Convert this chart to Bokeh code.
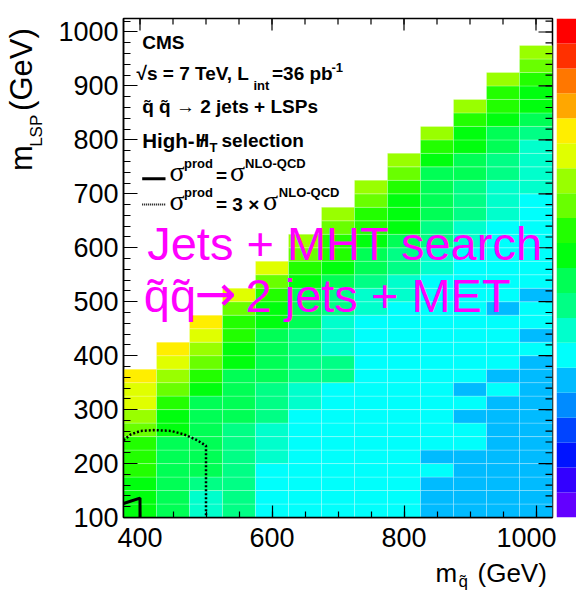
import numpy as np
import pandas as pd
from bokeh.plotting import figure
from bokeh.models import Range1d, FixedTicker, Label, ColumnDataSource
from bokeh.layouts import row, column
from bokeh.embed import file_html
from bokeh.resources import INLINE

# ---------------- data ----------------
m_squark = [400, 450, 500, 550, 600, 650, 700, 750, 800, 850, 900, 950, 1000]
lsp_first = 100          # lowest m_LSP bin edge (GeV)
lsp_step = 25            # m_LSP bin width (GeV)
sq_step = 50             # m_squark bin width (GeV)

# colour level (0..19 of the z palette) of every cell, from m_LSP = 100 GeV upward
lv_400 = [10, 10, 10, 11, 11, 11, 12, 13, 14, 14, 15]
lv_450 = [9, 9, 9, 9, 9, 9, 10, 10, 11, 12, 13, 14, 15]
lv_500 = [7, 7, 8, 9, 9, 9, 9, 9, 9, 10, 11, 12, 13, 14, 15]
lv_550 = [8, 8, 8, 8, 8, 8, 8, 9, 9, 9, 9, 10, 10, 11, 11, 12, 14]
lv_600 = [6, 6, 6, 6, 7, 7, 7, 8, 8, 8, 9, 9, 9, 9, 10, 10, 11, 12, 14]
lv_650 = [6, 6, 6, 6, 6, 6, 6, 6, 7, 7, 8, 8, 8, 8, 9, 9, 9, 10, 11, 12, 13]
lv_700 = [6, 6, 6, 6, 6, 6, 6, 6, 6, 6, 8, 8, 7, 7, 7, 8, 8, 9, 10, 11, 11, 12, 13]
lv_750 = [6, 6, 6, 6, 6, 6, 6, 6, 6, 6, 6, 6, 6, 6, 6, 7, 7, 8, 9, 9, 10, 11, 11, 12, 13]
lv_800 = [6, 6, 6, 6, 6, 6, 6, 6, 6, 6, 6, 6, 6, 6, 6, 6, 7, 7, 8, 8, 9, 10, 10, 10, 11, 12, 13]
lv_850 = [5, 5, 5, 6, 5, 6, 6, 6, 6, 6, 6, 6, 6, 6, 6, 6, 6, 6, 7, 7, 8, 8, 9, 9, 9, 9, 10, 11, 13]
lv_900 = [5, 5, 5, 5, 5, 6, 6, 5, 6, 5, 6, 6, 6, 6, 6, 6, 6, 6, 6, 6, 7, 7, 8, 8, 8, 9, 9, 10, 10, 11, 13]
lv_950 = [5, 5, 5, 5, 5, 5, 5, 5, 5, 6, 5, 6, 6, 6, 6, 5, 6, 6, 6, 6, 6, 6, 7, 7, 7, 8, 8, 9, 9, 10, 11, 11, 13]
lv_1000 = [5, 5, 5, 5, 5, 5, 5, 5, 5, 5, 5, 5, 6, 5, 6, 6, 5, 6, 6, 6, 6, 6, 6, 6, 7, 7, 7, 7, 8, 9, 10, 10, 11, 12, 13]
levels = [lv_400, lv_450, lv_500, lv_550, lv_600, lv_650, lv_700,
          lv_750, lv_800, lv_850, lv_900, lv_950, lv_1000]

# 20-level palette (violet -> red)
palette = ["#6300ff", "#3300ff", "#0014ff", "#0044ff", "#008bff", "#00bbff",
           "#00fffc", "#00ffcc", "#00ff85", "#00ff55", "#00ff0e", "#22ff00",
           "#69ff00", "#99ff00", "#e0ff00", "#ffee00", "#ffa700", "#ff7700",
           "#ff3000", "#ff0000"]

# exclusion contours
obs_x = [375, 400, 400]
obs_y = [126, 136, 100]
obs3_x = [375, 386, 401, 421, 447, 467, 487, 500, 500]
obs3_y = [243, 254, 260.5, 262, 260.5, 254, 243, 233, 100]

x_major = [400, 600, 800, 1000]
x_minor = [400, 450, 500, 550, 600, 650, 700, 750, 800, 850, 900, 950, 1000]
y_major = [100, 200, 300, 400, 500, 600, 700, 800, 900, 1000]
y_minor = list(range(100, 1021, 20))

X_LO, X_HI = 375, 1025
Y_LO, Y_HI = 100, 1025

# ---------------- cells table ----------------
rows = []
for m, lv in zip(m_squark, levels):
    for i, k in enumerate(lv):
        rows.append(dict(left=m - sq_step / 2, right=m + sq_step / 2,
                         bottom=lsp_first + i * lsp_step,
                         top=lsp_first + (i + 1) * lsp_step,
                         color=palette[k]))
cells = ColumnDataSource(pd.DataFrame(rows))

FONT = "Liberation Sans"
SHIFT = 0.4   # empirical baseline correction (fraction of font size)

# ---------------- layout geometry (page pixels) ----------------
YT_W = 50          # y-title strip
P_W, P_H = 506, 556
XT_H = 591 - P_H   # x-title strip
CB_W = 20
TOTAL_W = YT_W + P_W + CB_W

p = figure(width=P_W, height=P_H, x_range=Range1d(X_LO, X_HI), y_range=Range1d(Y_LO, Y_HI),
           output_backend="svg", toolbar_location=None,
           min_border_left=73, min_border_right=4, min_border_top=17, min_border_bottom=39)
p.grid.visible = False
p.outline_line_color = "black"
p.outline_line_width = 1.5
p.background_fill_color = "white"
p.border_fill_color = "white"

p.quad(source=cells, left="left", right="right", bottom="bottom", top="top",
       fill_color="color", line_color="white", line_alpha=0.3, line_width=0.8)

p.line(obs_x, obs_y, line_color="black", line_width=3)
p.line(obs3_x, obs3_y, line_color="black", line_width=2.5, line_dash="2 2")


def style_axis(ax, ticks, minor, tin, min_in):
    ax.ticker = FixedTicker(ticks=ticks, minor_ticks=minor)
    ax.major_tick_in = tin
    ax.major_tick_out = 0
    ax.minor_tick_in = min_in
    ax.minor_tick_out = 0
    ax.major_tick_line_color = "black"
    ax.minor_tick_line_color = "black"
    ax.major_tick_line_width = 1.2
    ax.minor_tick_line_width = 1.2
    ax.axis_line_color = "black"
    ax.axis_line_width = 1.5
    ax.major_label_text_font = FONT
    ax.major_label_text_font_size = "27px"
    ax.major_label_text_color = "black"


style_axis(p.xaxis[0], x_major, x_minor, 12, 6)
p.xaxis[0].major_label_standoff = 10
style_axis(p.yaxis[0], y_major, y_minor, 14, 7)
p.yaxis[0].major_label_standoff = 5

# page-pixel -> data helpers
FL, FR, FT, FB = 123.0, 552.0, 17.0, 517.0
XPX = (X_HI - X_LO) / (FR - FL)   # GeV per pixel, x
YPX = (Y_HI - Y_LO) / (FB - FT)   # GeV per pixel, y


def dx(px):
    return X_LO + (px - FL) * XPX


def dy(py):
    return Y_LO + (FB - py) * YPX


# mirrored ticks on the top and right edges of the frame
p.segment(x0=x_major, y0=[Y_HI] * len(x_major), x1=x_major, y1=[Y_HI - 12 * YPX] * len(x_major),
          line_color="black", line_width=1.2)
p.segment(x0=x_minor, y0=[Y_HI] * len(x_minor), x1=x_minor, y1=[Y_HI - 6 * YPX] * len(x_minor),
          line_color="black", line_width=1.2)
p.segment(x0=[X_HI] * len(y_major), y0=y_major, x1=[X_HI - 14 * XPX] * len(y_major), y1=y_major,
          line_color="black", line_width=1.2)
p.segment(x0=[X_HI] * len(y_minor), y0=y_minor, x1=[X_HI - 7 * XPX] * len(y_minor), y1=y_minor,
          line_color="black", line_width=1.2)


def txt(fig, x, y, s, size, bold=False, font=FONT, color="black", angle=0.0,
        align="left", conv=None):
    # x, y: page pixels of the text's left end on its baseline
    if angle == 0.0:
        y = y - SHIFT * size
    else:
        x = x - SHIFT * size
    if conv is not None:
        x, y = conv(x, y)
    fig.add_layout(Label(x=x, y=y, text=s, text_font=font,
                         text_font_size=f"{size}px",
                         text_font_style="bold" if bold else "normal",
                         text_color=color, angle=angle, text_align=align,
                         text_baseline="alphabetic"))


def ptxt(px, py, s, size, **kw):
    txt(p, px, py, s, size, conv=lambda a, b: (dx(a), dy(b)), **kw)


# legend block
ptxt(141.7, 48.3, "CMS", 19, bold=True)
ptxt(136, 79.5, "\u221as = 7 TeV, L", 19, bold=True)
ptxt(253, 89.5, "int", 13, bold=True)
ptxt(271.5, 79.5, "=36 pb", 19, bold=True)
ptxt(331, 71, "-1", 13, bold=True)
ptxt(141.7, 113, "q\u0303 q\u0303 \u2192 2 jets + LSPs", 19, bold=True)
ptxt(141.7, 147, "High-", 20.5, bold=True)
ptxt(195, 147, "H", 19, bold=True)
ptxt(201.8, 147, "/", 19, bold=True, align="center")
ptxt(209, 151.5, "T", 13, bold=True)
ptxt(221, 147, "selection", 19, bold=True)

p.line([dx(141.7), dx(165)], [dy(177.5), dy(177.5)], line_color="black", line_width=3)
ptxt(169, 181.5, "\u03c3", 28, font="Liberation Serif")
ptxt(183.5, 167, "prod", 13, bold=True)
ptxt(215.5, 181.5, "=", 19, bold=True)
ptxt(229.5, 181.5, "\u03c3", 28, font="Liberation Serif")
ptxt(244.5, 167, "NLO-QCD", 13, bold=True)

p.line([dx(141.7), dx(165)], [dy(203.3), dy(203.3)], line_color="black", line_width=2,
       line_dash="1 1")
ptxt(169, 210.5, "\u03c3", 28, font="Liberation Serif")
ptxt(183.5, 196.5, "prod", 13, bold=True)
ptxt(215.5, 210.5, "= 3 \u00d7", 19, bold=True)
ptxt(262.5, 210.5, "\u03c3", 28, font="Liberation Serif")
ptxt(278.3, 196.5, "NLO-QCD", 13, bold=True)

# magenta annotation
ptxt(146.7, 261.5, "Jets + MHT search", 47, color="#ff00ff")
ptxt(143.3, 313.3, "q\u0303q\u0303", 47, color="#ff00ff")
ptxt(194, 313.3, "\u2192", 50, color="#ff00ff", font="DejaVu Sans")
ptxt(245, 313.3, "2 jets + MET", 47, color="#ff00ff")


# ---------------- title strips (frames in page pixels) ----------------
def strip(width, height, x0, y0):
    f = figure(width=width, height=height, x_range=Range1d(x0, x0 + width),
               y_range=Range1d(y0 + height, y0), output_backend="svg",
               toolbar_location=None, x_axis_location=None, y_axis_location=None,
               min_border=0, title=None)
    f.grid.visible = False
    f.outline_line_color = None
    f.background_fill_color = "white"
    f.border_fill_color = "white"
    return f


yt = strip(YT_W, P_H, 0, 0)
txt(yt, 33, 170, "m", 31, angle=np.pi / 2)
txt(yt, 43, 143, "LSP", 17, angle=np.pi / 2)
txt(yt, 33, 103, "(GeV)", 31, angle=np.pi / 2)

xt = strip(TOTAL_W, XT_H, 0, P_H)
txt(xt, 435, 582.5, "m", 26)
txt(xt, 458, 587.5, "q\u0303", 17)
txt(xt, 477, 582.5, "(GeV)", 26)

# ---------------- colour bar ----------------
lvl_idx = list(range(len(palette)))
cb = figure(width=CB_W, height=P_H, x_range=Range1d(0, 1), y_range=Range1d(0, len(palette)),
            output_backend="svg", toolbar_location=None,
            x_axis_location=None, y_axis_location=None,
            min_border_left=0, min_border_right=0, min_border_top=18, min_border_bottom=39)
cb.grid.visible = False
cb.outline_line_color = None
cb.quad(left=0, right=1, bottom=lvl_idx, top=[i + 1 for i in lvl_idx], fill_color=palette,
        line_color=None)

layout = column(row(yt, p, cb), xt)
open("out.html", "w").write(file_html(layout, INLINE))
